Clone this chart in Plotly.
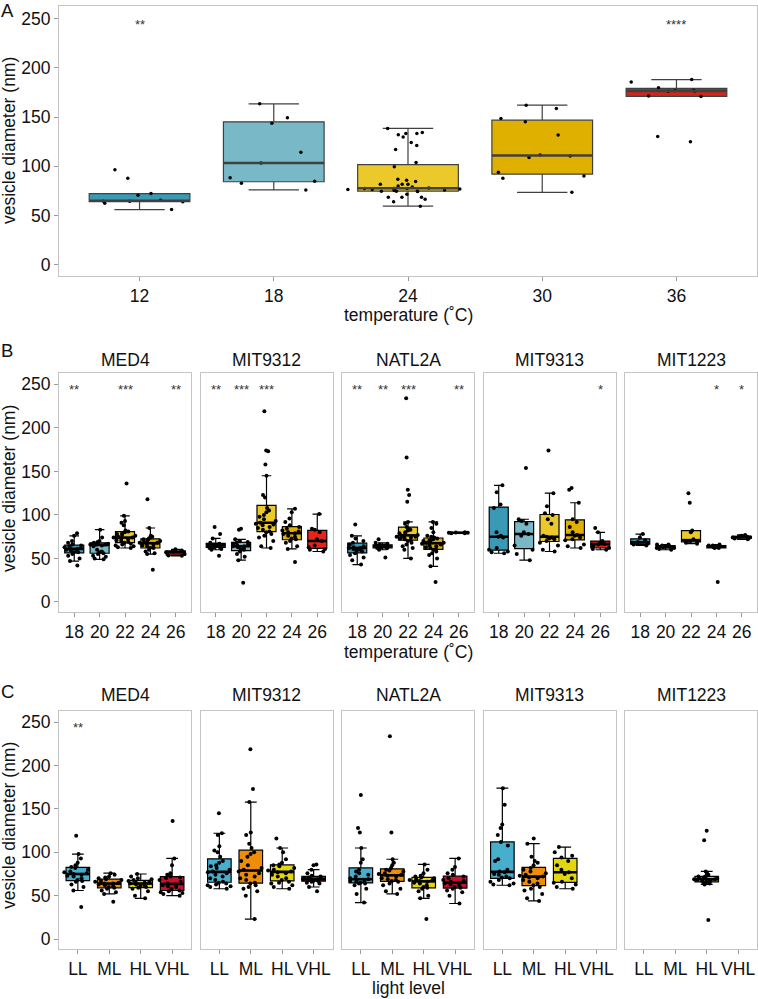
import numpy as np
import plotly.graph_objects as go

W, H = 758, 999

# ---- panel A: vesicle diameter vs growth temperature ----
temp_a = ["12", "18", "24", "30", "36"]
a_12 = [56, 62.5, 64, 64.5, 64.5, 65.5, 70.6, 72.3, 87.8, 96.6]
a_18 = [76, 82.8, 84.8, 88.5, 103.4, 114.2, 143.9, 149.3, 163.5]
a_24 = [59.5, 63.9, 66.6, 68.6, 68.6, 68.6, 71.6, 74.3, 74.7, 74.7, 75, 75.3, 76, 76.4,
        76.4, 77, 77.4, 77.4, 77.4, 77.4, 78, 79, 80, 81.8, 81.8, 81.8, 84.5, 85.8, 86.8,
        99.5, 104, 117.2, 121.3, 124.3, 129.7, 132, 133.4, 133.4, 134.5, 138.5]
a_30 = [73.6, 87.8, 90.2, 93.9, 109.1, 110.5, 111.5, 131.8, 145.3, 148.6, 158.8, 162.2]
a_36 = [125, 130.4, 171, 171.6, 176.4, 176.7, 177, 177.4, 180, 185.8, 188.2]
stars_a = ["**", "", "", "", "****"]

# ---- panel B: strains x temperature ----
strains = ["MED4", "MIT9312", "NATL2A", "MIT9313", "MIT1223"]
temp_b = ["18", "20", "22", "24", "26"]
b_med4 = {
    "18": [42, 47, 50, 53, 55, 57, 57, 58, 59, 60, 61, 61, 62, 63, 64, 65, 66, 68, 70, 76, 79],
    "20": [49, 50, 52, 53, 55, 56, 57, 58, 60, 64, 65, 66, 66, 66, 67, 67, 68, 68, 69, 70, 74, 83],
    "22": [62, 63, 64, 65, 66, 67, 68, 69, 70, 71, 72, 73, 74, 74, 75, 76, 77, 78, 79, 80, 81,
           82, 88, 91, 93, 99, 136],
    "24": [37, 55, 56, 58, 60, 62, 62, 63, 64, 65, 66, 67, 68, 68, 69, 70, 71, 72, 73, 74, 75,
           76, 85, 118],
    "26": [53, 53.5, 55, 57, 58, 59, 60.5],
}
b_mit9312 = {
    "18": [53, 60, 61, 62, 63, 63, 64, 64, 65, 65, 66, 66, 67, 68, 73, 78, 86],
    "20": [22, 48, 52, 55, 58, 60, 61, 62, 63, 64, 64, 65, 66, 67, 68, 69, 70, 72, 83, 84],
    "22": [62, 64, 70, 74, 76, 78, 80, 81, 83, 85, 86, 88, 89, 90, 91, 93, 95, 98, 100, 103,
           105, 108, 120, 123, 145, 158, 173, 174, 219],
    "24": [46, 61, 64, 68, 70, 72, 73, 75, 76, 78, 79, 80, 81, 82, 84, 86, 88, 92, 96, 103, 107],
    "26": [58, 60, 61, 63, 65, 70, 72, 80, 83, 84, 101],
}
b_natl2a = {
    "18": [43, 48, 51, 54, 56, 58, 59, 60, 61, 62, 62, 63, 64, 66, 68, 70, 73, 76, 89],
    "20": [51, 60, 62, 62, 63, 63, 64, 64, 64, 65, 65, 66, 67, 68, 72],
    "22": [50, 60, 62, 64, 66, 68, 70, 71, 72, 73, 74, 74, 75, 75, 76, 77, 78, 79, 80, 82, 83,
           84, 86, 90, 92, 115, 123, 129, 166, 234],
    "24": [23, 41, 50, 54, 56, 58, 60, 61, 62, 63, 64, 65, 66, 67, 68, 68, 69, 70, 71, 72, 73,
           74, 75, 76, 80, 85, 90, 92],
    "26": [79, 79, 79.5, 79.5, 79.8, 80],
}
b_mit9313 = {
    "18": [56, 57, 58, 60, 62, 74, 75, 76, 80, 108, 112, 126, 134],
    "20": [48, 55, 60, 65, 76, 78, 80, 90, 93, 95, 154],
    "22": [58, 60, 65, 68, 70, 72, 73, 74, 75, 76, 90, 95, 100, 102, 110, 125, 174],
    "24": [62, 64, 66, 71, 72, 74, 76, 77, 80, 86, 92, 95, 114, 129, 131],
    "26": [60, 61, 62, 64, 66, 67, 68, 70, 80, 85],
}
b_mit1223 = {
    "18": [65, 66, 67, 68, 69, 71, 74, 78],
    "20": [60, 61, 62, 62, 63, 63, 64, 64, 65, 66, 66],
    "22": [67, 68, 69, 70, 70, 72, 80, 82, 114, 125],
    "24": [23, 62, 62, 63, 63, 64, 64, 64, 65, 65, 66],
    "26": [72, 73, 74, 74, 75, 75, 76, 77],
}
stars_b = {
    "MED4": ["**", "", "***", "", "**"],
    "MIT9312": ["**", "***", "***", "", ""],
    "NATL2A": ["**", "**", "***", "", "**"],
    "MIT9313": ["", "", "", "", "*"],
    "MIT1223": ["", "", "", "*", "*"],
}

# ---- panel C: strains x light level ----
lights = ["LL", "ML", "HL", "VHL"]
c_med4 = {
    "LL": [37, 56, 60, 63, 66, 67, 68, 70, 72, 73, 74, 75, 76, 77, 78, 80, 82, 83, 85, 88, 93, 98, 119],
    "ML": [43, 52, 54, 56, 58, 59, 60, 61, 62, 63, 64, 64, 65, 66, 67, 68, 69, 70, 71, 72, 74, 76],
    "HL": [47, 50, 55, 58, 59, 60, 61, 62, 63, 64, 65, 65, 66, 67, 68, 69, 70, 72, 75],
    "VHL": [50, 52, 53, 54, 55, 56, 58, 60, 61, 62, 63, 64, 66, 68, 70, 71, 72, 74, 76, 85, 93, 136],
}
c_mit9312 = {
    "LL": [58, 60, 61, 62, 63, 64, 65, 66, 68, 70, 72, 74, 76, 77, 78, 80, 82, 84, 85, 88, 90,
           95, 100, 102, 107, 120, 122, 145],
    "ML": [23, 50, 55, 58, 60, 62, 64, 65, 68, 70, 72, 74, 76, 78, 80, 82, 85, 90, 95, 98, 100,
           105, 110, 120, 123, 158, 173, 219],
    "HL": [58, 60, 62, 64, 65, 66, 68, 70, 72, 74, 76, 77, 78, 79, 80, 82, 84, 85, 86, 88, 92,
           100, 105, 116],
    "VHL": [55, 60, 64, 65, 66, 67, 67, 68, 68, 69, 69, 69, 70, 70, 71, 72, 73, 76, 80, 85, 86],
}
c_natl2a = {
    "LL": [42, 52, 58, 62, 64, 64, 65, 66, 66, 67, 68, 68, 69, 70, 72, 74, 76, 78, 80, 88, 92,
           105, 123, 128, 166],
    "ML": [52, 55, 58, 62, 64, 66, 67, 68, 69, 70, 72, 73, 74, 75, 76, 78, 79, 80, 82, 85, 88,
           92, 123, 234],
    "HL": [23, 47, 50, 55, 58, 59, 60, 62, 64, 65, 66, 67, 68, 68, 69, 70, 71, 72, 73, 76, 80, 86],
    "VHL": [41, 50, 54, 56, 58, 59, 60, 62, 63, 64, 65, 66, 67, 68, 70, 72, 74, 76, 80, 83, 93],
}
c_mit9313 = {
    "LL": [62, 63, 64, 66, 68, 70, 71, 72, 74, 75, 77, 78, 80, 90, 92, 108, 112, 120, 128, 132,
           155, 174],
    "ML": [44, 47, 52, 56, 58, 60, 62, 64, 66, 68, 70, 71, 72, 73, 74, 76, 78, 80, 82, 85, 88,
           90, 95, 110, 116],
    "HL": [58, 60, 63, 65, 66, 70, 75, 77, 80, 85, 90, 94, 96, 100, 106],
    "VHL": [],
}
c_mit1223 = {
    "LL": [],
    "ML": [],
    "HL": [22, 63, 64, 65, 65, 66, 66, 67, 67, 68, 68, 69, 69, 69, 70, 70, 71, 72, 72, 73, 74,
           76, 78, 114, 125],
    "VHL": [],
}
stars_c = {
    "MED4": ["**", "", "", ""],
    "MIT9312": ["", "", "", ""],
    "NATL2A": ["", "", "", ""],
    "MIT9313": ["", "", "", ""],
    "MIT1223": ["", "", "", ""],
}

col_a = ["#3a9ab5", "#79b8c6", "#ecc92b", "#e0b000", "#d4241a"]
col_b = ["#3a9ab5", "#79b8c6", "#ecc92b", "#e0b000", "#e8231a"]
col_c = ["#47aecd", "#ef8d0b", "#e2d60c", "#c8102f"]

FONT = "Liberation Sans, Arial, Helvetica, sans-serif"
FS = 17.5
YR = [-11.5, 263]
CLEAR = "rgba(0,0,0,0)"

fig = go.Figure()
layout = {}
annots = []


def label(x, y, text, size=FS, angle=0):
    # paper-positioned text, given in page pixels, always centred on the point
    annots.append(dict(x=x / W, y=1 - y / H, xref="paper", yref="paper", text=text,
                       xanchor="center", yanchor="middle", textangle=angle,
                       showarrow=False, font=dict(size=size, color="#111111", family=FONT)))


def add_panel(k, cats, groups, colors, stars, xdom, ydom, show_y, linecol, dot):
    xa = "x" if k == 1 else f"x{k}"
    ya = "y" if k == 1 else f"y{k}"
    for i, (vals, col) in enumerate(zip(groups, colors)):
        if not vals:
            continue
        # visible box (1.5 IQR whiskers), its own points hidden
        fig.add_trace(go.Box(
            y=vals, x0=i + 1, width=0.75, fillcolor=col,
            line=dict(color=linecol, width=1.2),
            boxpoints="all", jitter=0, pointpos=0, marker=dict(opacity=0, size=1),
            xaxis=xa, yaxis=ya, showlegend=False, hoverinfo="skip"))
        # jittered raw points, spread a little wider than the box
        fig.add_trace(go.Box(
            y=vals, x0=i + 1, width=0.92, fillcolor=CLEAR,
            line=dict(color=CLEAR, width=0),
            boxpoints="all", jitter=1, pointpos=0,
            marker=dict(color="black", size=dot),
            xaxis=xa, yaxis=ya, showlegend=False, hoverinfo="y"))
        med = float(np.median(vals))
        fig.add_trace(go.Scatter(
            x=[i + 1 - 0.375, i + 1 + 0.375], y=[med, med], mode="lines",
            line=dict(color=linecol, width=2.6), xaxis=xa, yaxis=ya,
            showlegend=False, hoverinfo="skip"))
    for i, s in enumerate(stars):
        if s:
            annots.append(dict(x=i + 1, y=244, xref=xa, yref=ya, text=s, showarrow=False,
                               xanchor="center", yanchor="middle",
                               font=dict(size=13, color="#333333", family=FONT)))
    name_x = "xaxis" if k == 1 else f"xaxis{k}"
    name_y = "yaxis" if k == 1 else f"yaxis{k}"
    axis_common = dict(showline=True, mirror=True, linecolor="#c4c4c4", linewidth=1,
                       showgrid=False, zeroline=False, ticks="outside", ticklen=4,
                       tickcolor="#9a9a9a", tickfont=dict(size=FS, color="#111111", family=FONT))
    layout[name_x] = dict(axis_common, domain=[xdom[0] / W, xdom[1] / W],
                          range=[0.4, len(cats) + 0.6], tickmode="array",
                          tickvals=list(range(1, len(cats) + 1)), ticktext=cats,
                          anchor=ya)
    ydict = dict(axis_common, domain=[1 - ydom[1] / H, 1 - ydom[0] / H], range=YR,
                 tickmode="array", tickvals=[0, 50, 100, 150, 200, 250], anchor=xa)
    if not show_y:
        ydict.update(showticklabels=False, ticks="")
    layout[name_y] = ydict


# panel A
add_panel(1, temp_a, [a_12, a_18, a_24, a_30, a_36], col_a, stars_a,
          (59, 757), (6, 276), True, "#404040", 3.5)

facet_x = [(59, 191), (200.5, 332.5), (342, 474), (483.5, 615.5), (625, 757)]
b_data = [b_med4, b_mit9312, b_natl2a, b_mit9313, b_mit1223]
c_data = [c_med4, c_mit9312, c_natl2a, c_mit9313, c_mit1223]

for j, s in enumerate(strains):
    add_panel(2 + j, temp_b, [b_data[j][t] for t in temp_b], col_b, stars_b[s],
              facet_x[j], (373, 612), j == 0, "black", 4)
    add_panel(7 + j, lights, [c_data[j][l] for l in lights], col_c, stars_c[s],
              facet_x[j], (711, 949), j == 0, "black", 4)
    cx = (facet_x[j][0] + facet_x[j][1]) / 2
    label(cx, 360, s)
    label(cx, 695, s)

# axis titles and panel letters
for yc in (141, 489, 826):
    label(9, yc, "vesicle diameter (nm)", angle=-90)
label(408, 315, "temperature (˚C)")
label(408, 652, "temperature (˚C)")
label(408, 988, "light level")
label(7, 11, "A", size=18.5)
label(7, 350, "B", size=18.5)
label(7, 691, "C", size=18.5)

fig.update_layout(**layout)
fig.update_layout(width=W, height=H, margin=dict(l=0, r=0, t=0, b=0),
                  plot_bgcolor="white", paper_bgcolor="white", showlegend=False,
                  boxmode="overlay", annotations=annots,
                  font=dict(family=FONT, size=FS, color="#111111"))

# drop the browser's default body margin so the figure sits at the page origin
fig.write_html("out.html", config={"displayModeBar": False},
               post_script="document.body.style.margin='0';")
